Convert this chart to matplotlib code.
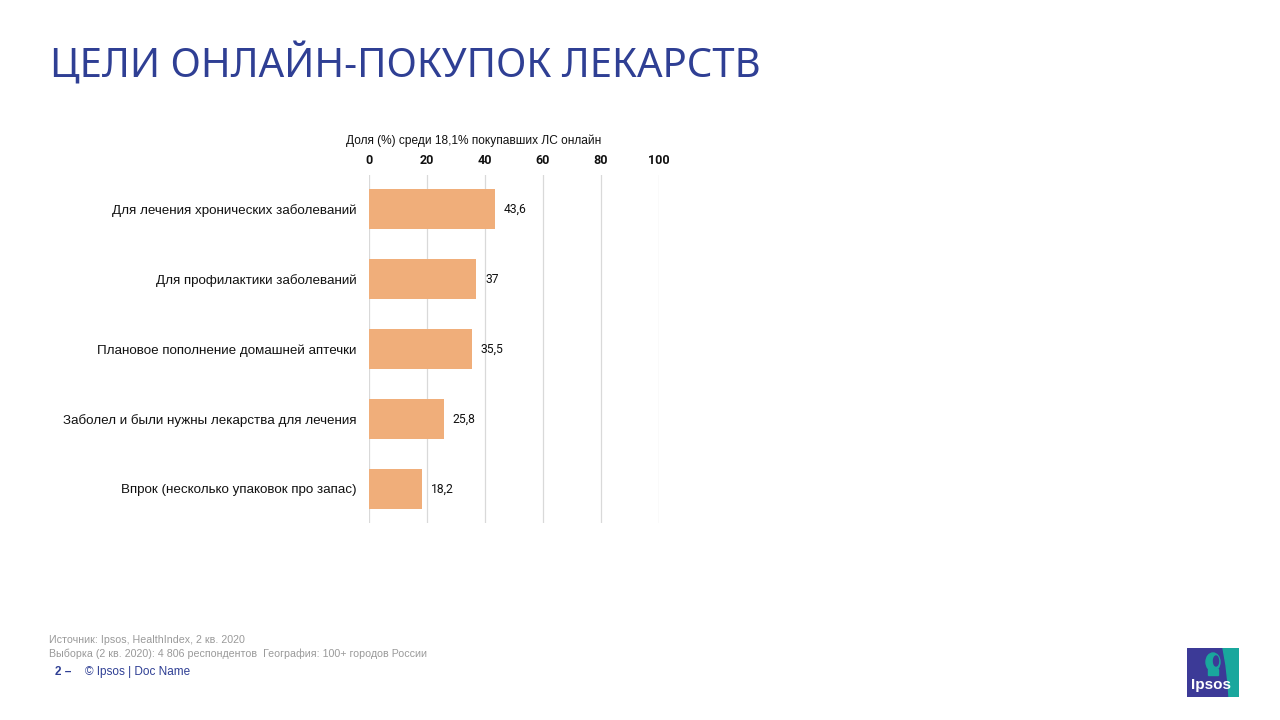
import matplotlib
matplotlib.use("Agg")
import matplotlib.pyplot as plt
from matplotlib.patches import Rectangle, Polygon, Ellipse

plt.rcParams['font.family'] = ['Liberation Sans', 'DejaVu Sans']

categories = [
    "Для лечения хронических заболеваний",
    "Для профилактики заболеваний",
    "Плановое пополнение домашней аптечки",
    "Заболел и были нужны лекарства для лечения",
    "Впрок (несколько упаковок про запас)",
]
values = [43.6, 37, 35.5, 25.8, 18.2]
value_labels = ["43,6", "37", "35,5", "25,8", "18,2"]
ticks = [0, 20, 40, 60, 80, 100]

NUM_FONT = ["Roboto", "DejaVu Sans"]

W, H = 1280, 720
fig = plt.figure(figsize=(12.8, 7.2), dpi=100)
fig.patch.set_facecolor("white")

ax = fig.add_axes([369 / W, 1 - 523 / H, 290 / W, 348 / H])
pos = list(range(len(categories)))
ax.barh(pos, values, height=0.57, color="#F0AE7A", zorder=3)
ax.set_xlim(0, 100)
ax.set_ylim(len(categories) - 0.514, -0.486)
ax.set_xticks(ticks)
ax.set_xticklabels([str(t) for t in ticks], fontsize=9, fontweight="bold",
                   color="#111111", family=NUM_FONT)
ax.xaxis.tick_top()
ax.tick_params(axis="x", length=0, pad=5.5)
ax.set_yticks(pos)
ax.set_yticklabels(categories, fontsize=9.65, color="#111111")
ax.tick_params(axis="y", length=0, pad=9)
for s in ax.spines.values():
    s.set_visible(False)
ax.grid(axis="x", color="#D9D9D9", linewidth=0.9, zorder=0)
for p, v, lab in zip(pos, values, value_labels):
    ax.text(v + 3.0, p, lab, va="center", ha="left", fontsize=8.7,
            color="#111111", family=NUM_FONT)

fig.text(346 / W, 1 - 141 / H, "Доля (%) среди 18,1% покупавших ЛС онлайн",
         fontsize=8.6, color="#111111", ha="left", va="center")

fig.text(50 / W, 1 - 77 / H, "ЦЕЛИ ОНЛАЙН-ПОКУПОК ЛЕКАРСТВ",
         fontsize=28.85, color="#2F3F94", ha="left", va="baseline",
         family=["Noto Sans", "DejaVu Sans"])

fig.text(49 / W, 1 - 640 / H, "Источник: Ipsos, HealthIndex, 2 кв. 2020",
         fontsize=7.7, color="#9A9A9A", ha="left", va="center")
fig.text(49 / W, 1 - 654 / H,
         "Выборка (2 кв. 2020): 4 806 респондентов  География: 100+ городов России",
         fontsize=7.7, color="#9A9A9A", ha="left", va="center")
fig.text(55 / W, 1 - 672 / H, "2 –", fontsize=8.5, fontweight="bold",
         color="#2F3F94", ha="left", va="center")
fig.text(85 / W, 1 - 672 / H, "© Ipsos | Doc Name", fontsize=8.5,
         color="#2F3F94", ha="left", va="center")

# Ipsos logo
lax = fig.add_axes([1187 / W, 1 - 697 / H, 52 / W, 49 / H])
lax.set_xlim(0, 52)
lax.set_ylim(0, 49)
lax.axis("off")
lax.add_patch(Rectangle((0, 0), 52, 49, color="#3C3A97"))
lax.add_patch(Polygon([[36, 49], [52, 49], [52, 0], [42, 0], [41, 14], [39, 32]],
                      closed=True, color="#19A79D"))
lax.add_patch(Ellipse((26, 35), 14, 18, color="#19A79D"))
lax.add_patch(Rectangle((21, 22), 10, 6, color="#19A79D"))
lax.add_patch(Ellipse((29, 36), 5, 10, color="#3C3A97"))
lax.text(24, 12, "Ipsos", color="white", fontsize=11, fontweight="bold",
         ha="center", va="center")

fig.savefig("out.png", dpi=100, facecolor="white")
